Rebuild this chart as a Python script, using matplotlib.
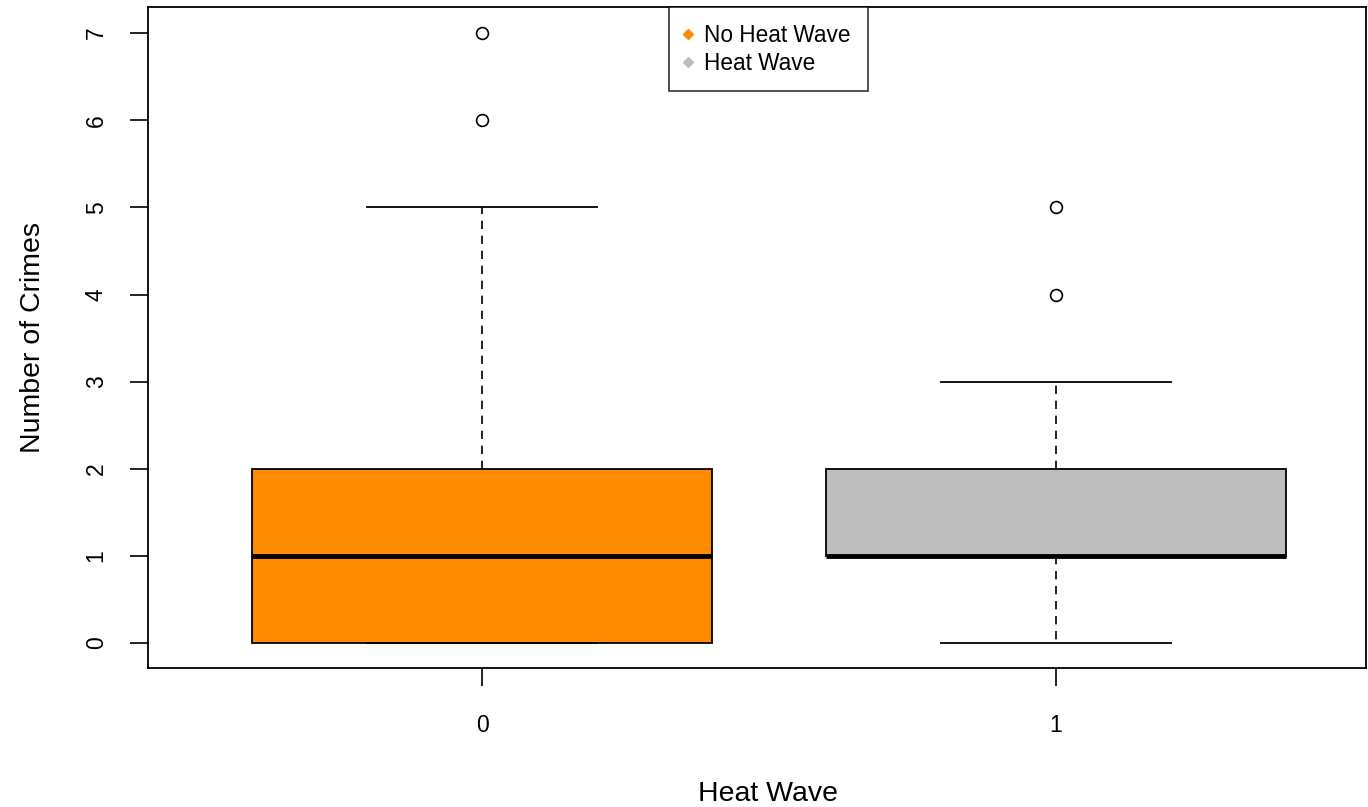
import matplotlib
matplotlib.use("Agg")
import matplotlib.pyplot as plt
from matplotlib.lines import Line2D

plt.rcParams['font.family'] = ['Liberation Sans', 'DejaVu Sans']

groups = ["0", "1"]
labels = ["No Heat Wave", "Heat Wave"]
colors = ["#FF8C00", "#BEBEBE"]
q1 = [0, 1]
med = [1, 1]
q3 = [2, 2]
wlo = [0, 0]
whi = [5, 3]
outliers = [[6, 7], [4, 5]]

stats = []
for i in range(len(groups)):
    stats.append(dict(q1=q1[i], med=med[i], q3=q3[i], whislo=wlo[i], whishi=whi[i],
                      fliers=outliers[i], label=groups[i]))

fig = plt.figure(figsize=(13.68, 8.07), dpi=100)
ax = fig.add_axes([148/1368, 1 - 668/807, (1366-148)/1368, (668-7)/807])

bp = ax.bxp(stats, positions=[1, 2], widths=0.8, patch_artist=True,
            boxprops=dict(linewidth=1.3, edgecolor='black'),
            medianprops=dict(color='black', linewidth=3.5, solid_capstyle='butt'),
            whiskerprops=dict(color='black', linewidth=1.2, linestyle=(0, (5, 4))),
            capprops=dict(color='black', linewidth=1.3),
            capwidths=0.4,
            flierprops=dict(marker='o', markerfacecolor='none', markeredgecolor='black',
                            markersize=8.5, markeredgewidth=1.2))
for patch, c in zip(bp['boxes'], colors):
    patch.set_facecolor(c)

ax.set_xlim(0.418, 2.540)
ax.set_ylim(-0.287, 7.30)
ax.set_yticks(range(0, 8))
ax.set_yticklabels([str(v) for v in range(0, 8)], rotation=90, va='center')
ax.set_xticks([1, 2])
ax.set_xticklabels(groups)
ax.tick_params(axis='both', direction='out', length=13, width=1.2, labelsize=16.5)
ax.tick_params(axis='x', pad=20)
ax.tick_params(axis='y', pad=16)
for s in ax.spines.values():
    s.set_linewidth(1.3)

ax.set_xlabel("Heat Wave", fontsize=20.5)
ax.set_ylabel("Number of Crimes", fontsize=20.5)
ax.xaxis.set_label_coords((768 - 148) / 1218, (668 - 781) / 661)
ax.yaxis.set_label_coords((46 - 148) / 1218, 0.5)

handles = [Line2D([], [], marker='D', linestyle='none', color=c, markersize=5) for c in colors]
leg = ax.legend(handles, labels, loc='upper left', bbox_to_anchor=(0.4278, 1.0),
                borderaxespad=0, fontsize=16.3, frameon=True, fancybox=False,
                edgecolor='black', handletextpad=0.6, handlelength=0.2,
                labelspacing=0.2, borderpad=0.75)
leg.get_frame().set_linewidth(1.2)

fig.savefig("out.png", dpi=100)
